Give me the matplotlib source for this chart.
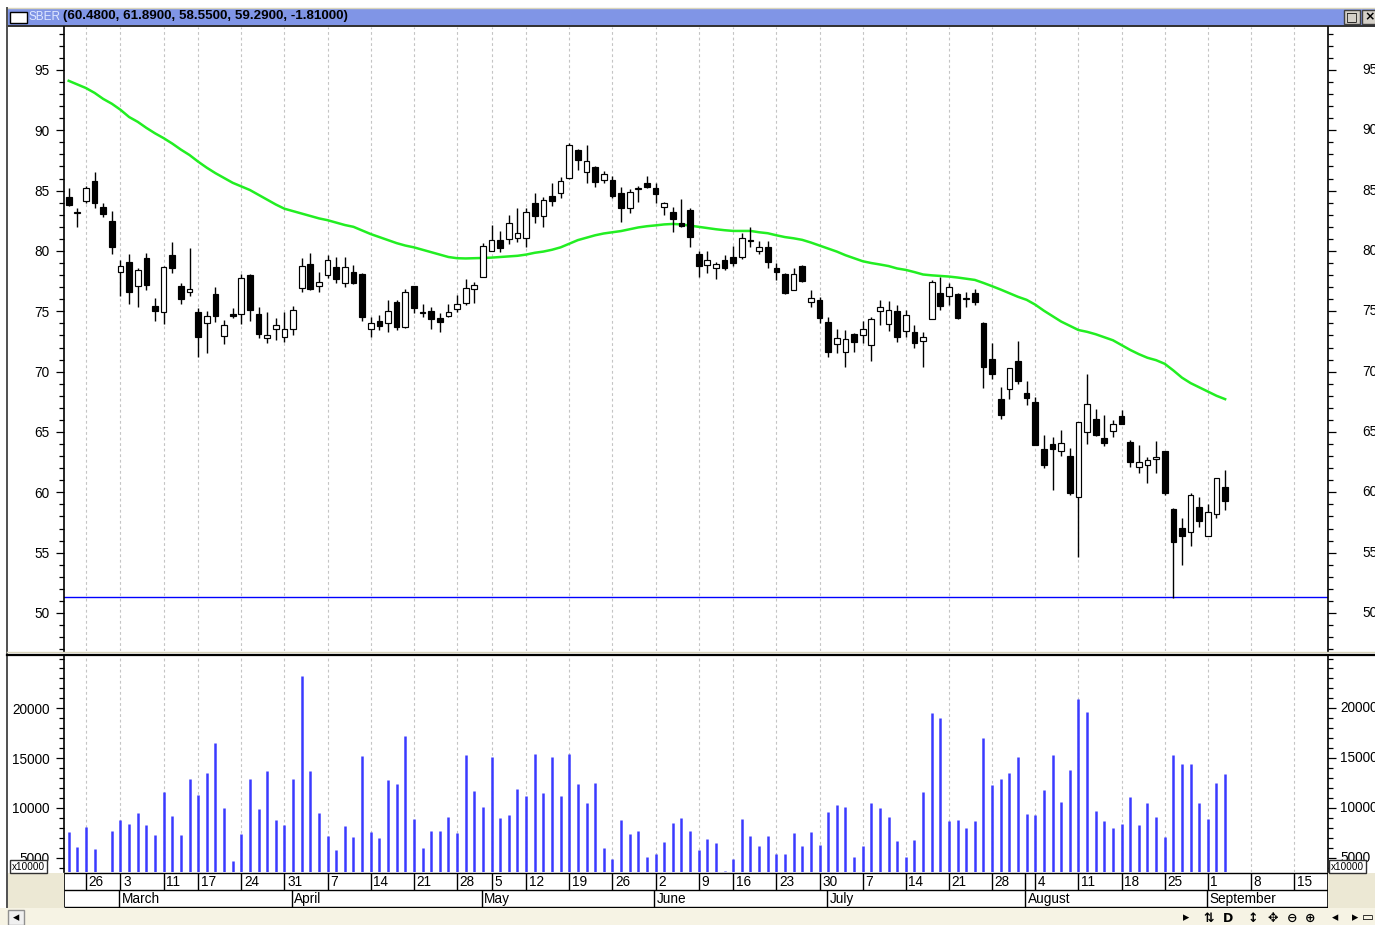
import numpy as np
import matplotlib
matplotlib.use('Agg')
import matplotlib.pyplot as plt
from matplotlib.patches import Rectangle
from matplotlib.ticker import MultipleLocator, FixedLocator

plt.rcParams['font.family'] = ['Liberation Sans', 'DejaVu Sans']

# ---- data: SBER daily candles, 21 Feb .. 3 Sep (trading days only) ----
opens = [84.45, 83.12, 84.11, 85.83, 83.67, 82.51, 78.26, 79.06, 77.13, 79.45,
         75.41, 74.92, 79.70, 77.07, 76.60, 74.97, 74.01, 76.46, 72.95, 74.80,
         74.78, 78.04, 74.78, 72.76, 73.56, 72.90, 73.51, 76.90, 78.89, 77.13,
         77.98, 78.65, 77.32, 78.29, 78.07, 73.54, 74.23, 74.06, 75.75, 73.73,
         77.10, 74.97, 75.06, 74.42, 74.61, 75.19, 75.69, 76.85, 77.85, 80.03,
         80.91, 80.97, 81.05, 81.10, 84.01, 82.93, 84.56, 84.78, 86.08, 88.37,
         86.52, 86.94, 85.89, 85.89, 84.78, 83.54, 85.15, 85.67, 85.25, 83.62,
         83.20, 82.30, 83.40, 79.73, 78.87, 78.56, 79.26, 79.53, 79.53, 80.83,
         80.03, 80.30, 78.56, 78.07, 76.77, 78.79, 75.80, 75.94, 74.14, 72.27,
         71.66, 73.12, 73.04, 72.22, 75.03, 73.92, 75.06, 73.38, 73.32, 72.57,
         74.34, 76.55, 76.28, 76.41, 76.03, 76.55, 74.01, 71.06, 67.71, 68.54,
         70.89, 68.21, 67.52, 63.57, 64.01, 63.46, 63.05, 59.59, 65.03, 66.06,
         64.54, 65.04, 66.30, 64.21, 62.08, 62.27, 62.80, 63.43, 58.60, 57.08,
         56.75, 58.82, 56.39, 58.21, 60.48]
highs = [85.19, 83.53, 85.39, 86.52, 84.00, 83.31, 79.25, 79.72, 78.56, 79.81,
         76.13, 78.76, 80.77, 77.35, 80.22, 75.30, 75.05, 77.02, 74.25, 75.30,
         78.09, 78.09, 75.36, 74.97, 74.42, 74.92, 75.44, 79.45, 79.81, 78.29,
         79.67, 79.53, 79.53, 78.84, 78.15, 74.50, 74.70, 75.94, 75.94, 76.83,
         77.13, 75.61, 75.39, 74.89, 75.61, 76.33, 77.68, 77.46, 80.64, 82.16,
         81.69, 83.01, 83.54, 83.54, 84.78, 84.51, 85.61, 86.16, 88.98, 88.43,
         88.79, 87.05, 86.66, 86.25, 85.28, 85.14, 85.42, 86.22, 85.61, 84.09,
         83.62, 84.28, 83.54, 80.00, 80.00, 79.12, 79.67, 80.41, 81.52, 81.96,
         80.86, 80.83, 79.03, 78.15, 78.56, 78.84, 76.77, 76.22, 74.56, 73.54,
         73.46, 73.18, 74.23, 74.56, 75.94, 75.89, 75.53, 75.10, 73.87, 73.32,
         77.60, 77.88, 77.33, 76.55, 76.64, 76.83, 74.15, 72.35, 68.76, 70.28,
         72.55, 69.26, 67.93, 64.76, 64.62, 65.17, 63.65, 65.86, 69.81, 66.88,
         66.41, 66.00, 66.83, 64.34, 63.93, 62.96, 64.29, 63.43, 58.68, 57.91,
         59.98, 59.65, 59.04, 61.22, 61.89]
lows = [83.76, 82.00, 83.95, 83.53, 82.79, 79.72, 76.27, 75.60, 75.39, 76.77,
        74.20, 73.92, 78.15, 75.60, 76.30, 71.24, 71.52, 74.14, 72.32, 74.42,
        73.92, 74.23, 72.76, 72.35, 72.62, 72.49, 73.04, 76.57, 76.77, 76.63,
        77.73, 77.33, 77.05, 77.27, 74.23, 72.85, 73.46, 73.32, 73.46, 73.60,
        74.89, 74.50, 73.51, 73.26, 74.56, 74.97, 75.53, 75.72, 77.85, 80.03,
        79.95, 80.58, 80.78, 80.36, 82.30, 81.96, 83.73, 84.37, 86.00, 86.71,
        85.61, 85.28, 85.61, 84.37, 82.43, 83.18, 84.09, 85.20, 83.95, 82.99,
        81.60, 82.00, 80.36, 77.87, 78.15, 77.65, 78.43, 78.76, 79.31, 80.36,
        79.75, 78.56, 77.60, 76.41, 76.77, 77.46, 75.39, 74.06, 71.24, 71.58,
        70.42, 71.66, 72.35, 70.92, 73.87, 73.37, 72.49, 72.90, 71.94, 70.37,
        74.34, 75.12, 75.53, 74.34, 75.39, 75.53, 68.62, 69.40, 66.06, 67.71,
        68.96, 67.24, 63.93, 61.99, 60.20, 63.02, 59.78, 54.67, 63.98, 64.67,
        63.85, 64.62, 65.62, 62.08, 61.64, 60.75, 61.64, 59.79, 51.22, 53.98,
        55.59, 57.16, 56.39, 57.85, 58.55]
closes = [83.84, 83.15, 85.19, 83.95, 83.07, 80.36, 78.73, 76.57, 78.43, 77.18,
          75.03, 78.65, 78.62, 75.99, 76.82, 72.90, 74.61, 74.58, 73.84, 74.61,
          77.76, 75.14, 73.12, 73.04, 73.84, 73.56, 75.14, 78.78, 76.85, 77.40,
          79.25, 77.65, 78.65, 77.38, 74.50, 74.01, 73.79, 75.06, 73.68, 76.63,
          75.30, 74.83, 74.34, 74.14, 74.97, 75.61, 76.91, 77.18, 80.39, 80.94,
          80.28, 82.30, 81.52, 83.21, 82.93, 84.20, 84.17, 85.83, 88.81, 87.54,
          87.46, 85.69, 86.41, 84.56, 83.54, 84.86, 85.20, 85.33, 84.73, 83.98,
          82.63, 82.07, 81.14, 78.76, 79.26, 78.90, 78.56, 79.03, 81.11, 80.86,
          80.30, 79.12, 78.29, 76.49, 78.07, 77.52, 76.08, 74.42, 71.60, 72.76,
          72.68, 72.49, 73.54, 74.34, 75.39, 75.11, 72.90, 74.70, 72.35, 72.85,
          77.41, 75.45, 77.05, 74.43, 76.06, 75.81, 70.37, 69.78, 66.41, 70.28,
          69.23, 67.80, 63.93, 62.27, 63.57, 64.07, 59.92, 65.86, 67.33, 64.76,
          64.07, 65.70, 65.67, 62.52, 62.55, 62.69, 62.96, 59.93, 55.92, 56.39,
          59.79, 57.63, 58.41, 61.22, 59.29]
# volume, in units of 10000
volumes = [7600, 6100, 8040, 5890, 3300, 7700, 8740, 8340, 9510, 8240,
           7300, 11620, 9210, 7270, 12900, 11290, 13530, 16510, 9950, 4620,
           7330, 12900, 9850, 13670, 8740, 8240, 12900, 23250, 13670, 9510,
           7170, 5760, 8140, 7030, 15240, 7570, 6970, 12790, 12360, 17250,
           8840, 5990, 7700, 7700, 9080, 7470, 15340, 11720, 10050, 15110,
           8940, 9280, 11860, 11190, 15440, 11520, 15110, 11190, 15440, 12360,
           10450, 12460, 5990, 4820, 8740, 7370, 7700, 5020, 5370, 6530,
           8440, 8980, 7700, 5760, 6860, 6430, 3650, 4820, 8880, 7170,
           6130, 7170, 5390, 5390, 7500, 6130, 7600, 6260, 9610, 10250,
           10080, 5060, 6130, 10450, 9950, 9080, 6660, 5060, 6760, 11560,
           19530, 18990, 8670, 8770, 7940, 8670, 16980, 12290, 12930, 13460,
           15140, 9410, 9280, 11760, 15270, 10580, 13770, 20900, 19630, 9710,
           8670, 7940, 8370, 11120, 8270, 10450, 9110, 7100, 15270, 14400,
           14400, 10450, 8880, 12490, 13360]
# moving average (green line)
ma = [94.10, 93.80, 93.50, 93.10, 92.60, 92.20, 91.70, 91.10, 90.70, 90.20,
      89.75, 89.35, 88.90, 88.40, 87.95, 87.40, 86.90, 86.45, 86.05, 85.65,
      85.35, 85.05, 84.65, 84.25, 83.85, 83.50, 83.30, 83.10, 82.90, 82.70,
      82.55, 82.35, 82.15, 82.00, 81.70, 81.40, 81.15, 80.90, 80.65, 80.45,
      80.30, 80.10, 79.90, 79.70, 79.50, 79.40, 79.38, 79.40, 79.42, 79.45,
      79.50, 79.55, 79.60, 79.70, 79.85, 79.95, 80.10, 80.30, 80.60, 80.90,
      81.10, 81.30, 81.45, 81.55, 81.65, 81.80, 81.95, 82.05, 82.12, 82.20,
      82.24, 82.20, 82.10, 82.00, 81.90, 81.80, 81.72, 81.66, 81.66, 81.66,
      81.55, 81.47, 81.30, 81.15, 81.05, 80.92, 80.70, 80.45, 80.20, 79.95,
      79.65, 79.40, 79.15, 79.00, 78.88, 78.75, 78.55, 78.43, 78.25, 78.05,
      77.98, 77.93, 77.88, 77.80, 77.70, 77.60, 77.35, 77.08, 76.80, 76.50,
      76.20, 75.95, 75.55, 75.05, 74.60, 74.15, 73.80, 73.45, 73.30, 73.10,
      72.85, 72.60, 72.20, 71.80, 71.45, 71.15, 70.95, 70.65, 70.10, 69.50,
      69.05, 68.70, 68.35, 68.00, 67.72]
support = 51.35

# week starts (trading day index) and their day labels
week_pos = [2, 6, 11, 15, 20, 25, 30, 35, 40, 45, 49, 53, 58, 63, 68,
            73, 77, 82, 87, 92, 97, 102, 107, 112, 117, 122, 127, 132, 137, 142]
week_labels = ['26', '3', '11', '17', '24', '31', '7', '14', '21', '28', '5', '12', '19', '26', '2',
               '9', '16', '23', '30', '7', '14', '21', '28', '4', '11', '18', '25', '1', '8', '15']
month_pos = [6, 26, 48, 68, 88, 111, 132]
month_labels = ['March', 'April', 'May', 'June', 'July', 'August', 'September']
title = '(60.4800, 61.8900, 58.5500, 59.2900, -1.81000)'

W, H = 1375, 925
XLIM = (-0.545, 145.92)
FS = 9.8


def rect(x0, y0, x1, y1):
    # pixel box (top-left origin) -> figure fraction
    return [x0 / W, 1 - y1 / H, (x1 - x0) / W, (y1 - y0) / H]


fig = plt.figure(figsize=(W / 100, H / 100), dpi=100)

# background layer in pixel coordinates (window frame etc.)
bg = fig.add_axes([0, 0, 1, 1], zorder=0)
bg.set_xlim(0, W)
bg.set_ylim(H, 0)
bg.axis('off')

beige = '#ece8d4'
bg.add_patch(Rectangle((7, 8), W - 7, 18, fc='#8095e6', ec='none'))
bg.plot([7, W], [7.5, 7.5], color='#d8d4bc', lw=1)
bg.plot([7, W], [26, 26], color='#303030', lw=1.4)
bg.plot([7, 7], [8, 907], color='#505050', lw=1.4)
bg.add_patch(Rectangle((10, 12), 17, 11, fc='white', ec='black', lw=1))
bg.text(29, 16.5, 'SBER', color='#e0e8ff', fontsize=8.5, va='center', ha='left')
bg.text(63, 16.5, title, color='black', fontsize=9.6, fontweight='bold', va='center', ha='left')
# window buttons
for bx, sym in [(1344, '□'), (1362, '×')]:
    bg.add_patch(Rectangle((bx, 10), 16, 14, fc='#d4d0c8', ec='#404040', lw=1))
    bg.text(bx + 8, 17, sym, fontsize=9, ha='center', va='center', fontweight='bold',
            family=['DejaVu Sans'])
# separator between price and volume panels
bg.plot([7, W], [652, 652], color='#d8d4bc', lw=1)
bg.plot([7, W], [655, 655], color='black', lw=1.6)
# hatched areas beside the date rows and the scroll strip
bg.add_patch(Rectangle((8, 873), 56, 35, fc=beige, ec='none'))
bg.add_patch(Rectangle((1328, 873), W - 1328, 35, fc=beige, ec='none'))
bg.add_patch(Rectangle((0, 908), W, H - 908, fc='#f6f3e4', ec='none'))
bg.add_patch(Rectangle((8, 910), 16, 15, fc='#f0f0f0', ec='#909090', lw=1))
bg.text(16, 918, '◂', fontsize=9, ha='center', va='center', family=['DejaVu Sans'])
icons = [(1186, '▸'), (1209, '⇅'), (1228, 'D'), (1253, '↕'), (1273, '✥'),
         (1292, '⊖'), (1310, '⊕'), (1335, '◂'), (1355, '▸'), (1368, '▭')]
for ix, sym in icons:
    bg.text(ix, 918, sym, fontsize=9, ha='center', va='center', fontweight='bold',
            family=['DejaVu Sans'])

grid_kw = dict(color='#c4c4c4', lw=0.8, ls=(0, (2.5, 2.5)), zorder=1)

# ---- price panel ----
ax = fig.add_axes(rect(64, 27, 1328, 651), zorder=2)
ax.set_facecolor('none')
x = np.arange(len(opens))
o = np.array(opens)
c = np.array(closes)
up = c >= o
for p in week_pos:
    ax.axvline(p, **grid_kw)
ax.plot(x, ma, color='#22ee22', lw=1.8, zorder=2)
ax.axhline(support, color='#0000ff', lw=1.0, zorder=2)
ax.vlines(x, lows, highs, color='black', lw=1.0, zorder=3)
ax.bar(x, np.maximum(np.abs(c - o), 0.07), bottom=np.minimum(o, c), width=0.66,
       color=np.where(up, 'white', 'black'), edgecolor='black', linewidth=0.85, zorder=4)
ax.set_xlim(*XLIM)
ax.set_ylim(46.85, 98.56)
ax.yaxis.set_major_locator(MultipleLocator(5))
ax.yaxis.set_minor_locator(MultipleLocator(1))

# ---- volume panel ----
av = fig.add_axes(rect(64, 656, 1328, 872), zorder=2)
av.set_facecolor('none')
for p in week_pos:
    av.axvline(p, **grid_kw)
av.vlines(x, 0, volumes, color='#3a3aff', lw=1.8, zorder=3)
av.set_xlim(*XLIM)
av.set_ylim(3548, 25256)
av.yaxis.set_major_locator(FixedLocator([5000, 10000, 15000, 20000]))
av.yaxis.set_minor_locator(MultipleLocator(1000))

for a in (ax, av):
    a.spines['top'].set_visible(False)
    a.spines['bottom'].set_visible(False)
    a.spines['left'].set_linewidth(1.2)
    a.spines['right'].set_linewidth(1.2)
    a.set_xticks([])
    a.tick_params(axis='y', which='major', direction='out', length=6, width=0.9,
                  left=True, right=True, labelleft=True, labelright=False, pad=4.5,
                  labelsize=FS)
    a.tick_params(axis='y', which='minor', direction='out', length=3.5, width=0.9,
                  left=True, right=True)

# right hand labels
for v in range(50, 96, 5):
    ax.text(1.0269, v, str(v), transform=ax.get_yaxis_transform(), fontsize=FS,
            ha='left', va='center', clip_on=False)
for v in [5000, 10000, 15000, 20000]:
    av.text(1.0095, v, str(v), transform=av.get_yaxis_transform(), fontsize=FS,
            ha='left', va='center', clip_on=False)

# ---- date rows ----
ad = fig.add_axes(rect(64, 872, 1328, 908), zorder=2)
ad.set_xlim(*XLIM)
ad.set_ylim(36, 0)
ad.axis('off')
ad.hlines([1, 18, 35], XLIM[0], XLIM[1], color='black', lw=1)
ad.vlines([XLIM[0], XLIM[1]], 1, 35, color='black', lw=1.2)
for p, lab in zip(week_pos, week_labels):
    ad.vlines(p, 1, 18, color='black', lw=1)
    ad.text(p + 0.3, 9.8, lab, fontsize=FS, ha='left', va='center')
for p, lab in zip(month_pos, month_labels):
    ad.vlines(p - 0.15, 18, 35, color='black', lw=1)
    ad.text(p + 0.15, 27, lab, fontsize=FS, ha='left', va='center')
ad.vlines(month_pos[5] - 0.15, 1, 18, color='black', lw=1)

# ---- overlay: x10000 boxes ----
top = fig.add_axes([0, 0, 1, 1], zorder=10)
top.set_xlim(0, W)
top.set_ylim(H, 0)
top.axis('off')
for bx in (10, 1329):
    top.add_patch(Rectangle((bx, 860), 37, 13, fc='white', ec='#303030', lw=1))
    top.text(bx + 18.5, 866.5, 'x10000', fontsize=7.2, ha='center', va='center')

fig.savefig('out.png', dpi=100)
